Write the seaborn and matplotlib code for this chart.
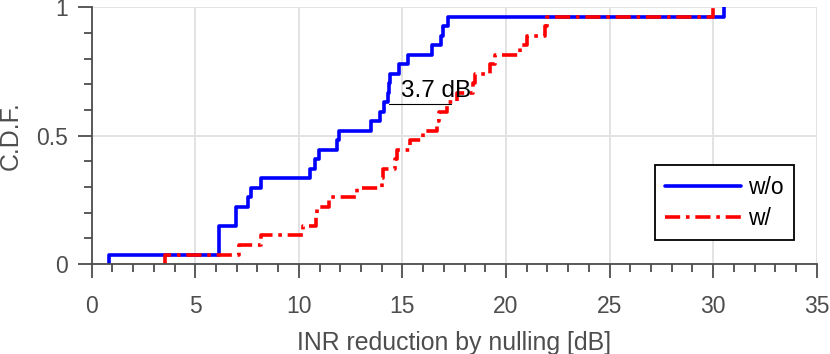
import numpy as np
import pandas as pd
import matplotlib
matplotlib.use("Agg")
import matplotlib.pyplot as plt
from matplotlib.ticker import MultipleLocator
import seaborn as sns

wo_null = [0.85, 6.16, 6.16, 6.16, 6.97, 6.97, 7.56, 7.68, 8.18, 10.55, 10.78,
           10.96, 11.85, 11.92, 13.49, 13.92, 14.12, 14.30, 14.34, 14.38, 14.83,
           15.29, 16.45, 16.84, 16.98, 17.18, 30.50]
w_null = [3.54, 7.13, 8.18, 10.18, 10.83, 10.86, 11.46, 12.80, 14.00, 14.08,
          14.66, 14.72, 15.35, 16.01, 16.66, 16.75, 17.14, 17.62, 18.40, 18.50,
          19.23, 19.47, 20.68, 21.00, 21.89, 21.97, 29.98]
series_names = ["w/o", "w/"]

# gap marker between the two curves
gap_from = 14.36
gap_to = 17.36
gap_level = 0.622
gap_label = "3.7 dB"


def ecdf_frame(vals):
    x = np.sort(np.asarray(vals))
    y = np.arange(1, len(x) + 1) / len(x)
    return pd.DataFrame({"x": np.r_[x[0], x], "y": np.r_[0.0, y]})


sns.set_style("ticks")
plt.rcParams["font.family"] = ["Liberation Sans", "DejaVu Sans"]
grey = "#4d4d4d"

fig = plt.figure(figsize=(8.3, 3.54), dpi=100)
ax = fig.add_axes([0.1105, 0.2542, 0.8735, 0.7252])

sns.lineplot(data=ecdf_frame(wo_null), x="x", y="y", ax=ax, estimator=None,
             sort=False, drawstyle="steps-post", color="#0000ff", lw=2.6,
             label=series_names[0])
sns.lineplot(data=ecdf_frame(w_null), x="x", y="y", ax=ax, estimator=None,
             sort=False, drawstyle="steps-post", color="#ff0000", lw=2.6,
             linestyle=(0, (4.2, 1.6, 1.0, 1.6)), label=series_names[1])

# gap annotation
ax.plot([gap_from, gap_to], [gap_level, gap_level], color="black", lw=0.8)
ax.text(14.93, 0.652, gap_label, fontsize=17.5, color="black",
        ha="left", va="baseline")

ax.set_xlim(0, 35)
ax.set_ylim(0, 1)
ax.xaxis.set_major_locator(MultipleLocator(5))
ax.xaxis.set_minor_locator(MultipleLocator(1))
ax.yaxis.set_minor_locator(MultipleLocator(0.1))
ax.set_yticks([0, 0.5, 1])
ax.set_yticklabels(["0", "0.5", "1"])
ax.grid(True, which="major", color="#e3e3e3", lw=1.4)
ax.set_axisbelow(True)

for s in ["top", "right"]:
    ax.spines[s].set_visible(False)
for s in ["left", "bottom"]:
    ax.spines[s].set_color(grey)
    ax.spines[s].set_linewidth(1.3)

ax.tick_params(which="both", bottom=True, left=True, top=False, right=False)
ax.tick_params(which="major", direction="out", length=10, width=1.3,
               color=grey, labelcolor=grey, labelsize=16.5)
ax.tick_params(which="minor", direction="out", length=6, width=1.3, color=grey)
ax.tick_params(axis="x", which="major", pad=12)
ax.tick_params(axis="y", which="major", pad=7)

ax.set_xlabel("INR reduction by nulling [dB]", fontsize=17.9, color=grey)
ax.set_ylabel("C.D.F.", fontsize=17.9, color=grey)
ax.xaxis.set_label_coords(0.5, -0.26)
ax.yaxis.set_label_coords(-0.095, 0.5)

leg = ax.legend(loc="lower right", bbox_to_anchor=(0.968, 0.0935),
                borderaxespad=0, fontsize=16.5, handlelength=3.3,
                fancybox=False, framealpha=1, edgecolor="black",
                borderpad=0.45, labelspacing=0.35, handletextpad=0.3)
leg.get_frame().set_linewidth(1.3)
for t in leg.get_texts():
    t.set_color("black")

fig.savefig("out.png", dpi=100)
